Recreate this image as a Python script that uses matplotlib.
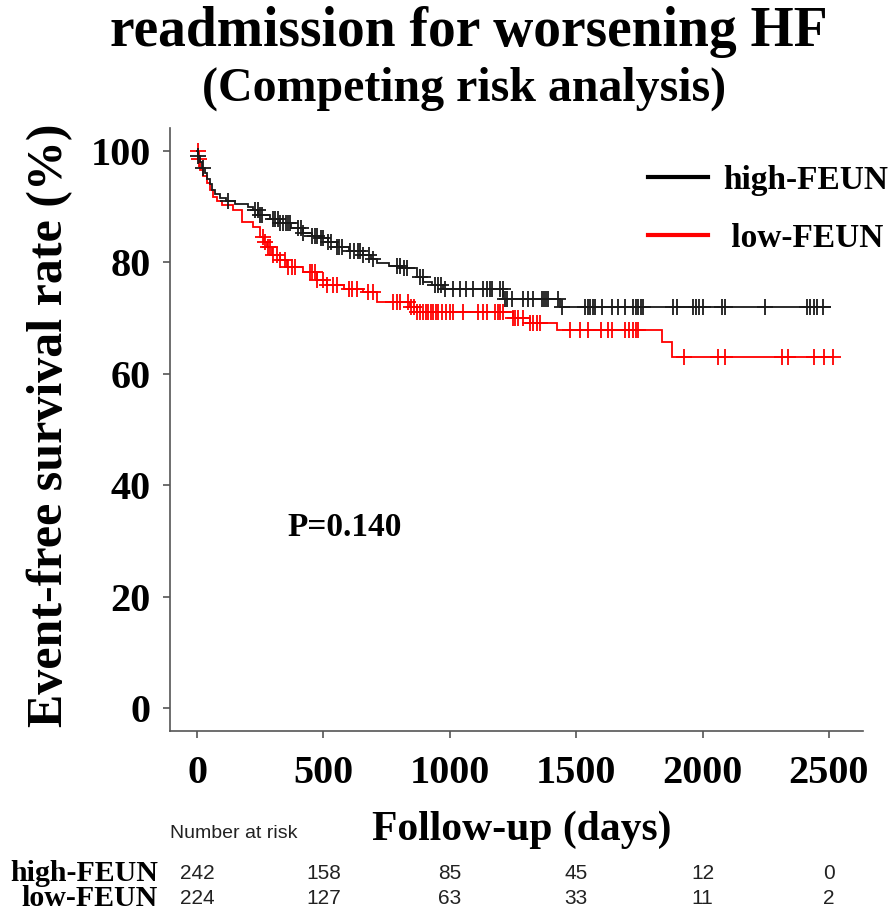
import numpy as np
import matplotlib
matplotlib.use('Agg')
import matplotlib.pyplot as plt
from matplotlib.lines import Line2D
from matplotlib.transforms import blended_transform_factory

# ---------------- data ----------------
high_times = [0, 5, 12, 20, 30, 40, 50, 60, 70, 90, 115, 150, 200, 222, 241, 290, 328, 370,
              420, 455, 487, 520, 554, 600, 657, 690, 712, 760, 815, 870, 895, 930, 974, 1211, 1437]
high_surv = [100, 99, 98, 97, 96, 95, 94, 93, 92.3, 91.6, 91.0, 90.4, 89.9, 89.4, 88.5, 87.8, 87.0, 86.2,
             85.3, 84.8, 84.3, 83.6, 82.8, 82.0, 81.3, 80.6, 79.9, 79.4, 79.0, 77.4, 76.5, 76.0, 75.2, 73.4, 72.0]
high_end = 2505
high_censor = [5, 24, 123, 230, 240, 250, 257, 300, 310, 320, 328, 340, 350, 360, 368, 400, 410, 420,
               455, 465, 475, 490, 499, 520, 530, 554, 562, 574, 605, 620, 635, 645, 657, 680, 695,
               791, 805, 820, 831, 882, 894, 942, 955, 965, 981, 1013, 1040, 1065, 1092, 1132, 1148,
               1160, 1167, 1200, 1210, 1219, 1227, 1247, 1290, 1310, 1330, 1365, 1372, 1380, 1390,
               1430, 1445, 1535, 1545, 1555, 1565, 1575, 1603, 1642, 1666, 1694, 1725, 1735, 1745,
               1755, 1765, 1884, 1900, 1963, 1975, 1988, 2002, 2078, 2089, 2248, 2414, 2427, 2440,
               2453, 2477]

low_times = [0, 5, 12, 25, 40, 50, 63, 80, 99, 142, 178, 222, 249, 265, 277, 297, 328, 356, 420,
             475, 514, 580, 657, 712, 843, 870, 1250, 1318, 1425, 1840, 1880]
low_surv = [100, 98.5, 96.6, 95.5, 94.3, 93.0, 91.7, 91.0, 90.3, 89.4, 87.3, 86.4, 84.6, 83.7, 82.8,
            81.3, 80.4, 79.2, 78.3, 76.8, 75.9, 75.3, 74.7, 72.9, 72.0, 71.1, 70.0, 69.1, 67.9, 65.7, 63.0]
low_end = 2517
low_censor = [3, 8, 261, 270, 280, 289, 300, 315, 328, 348, 360, 375, 388, 447, 455, 465, 475, 499,
              514, 538, 555, 600, 615, 633, 677, 697, 776, 790, 803, 835, 848, 860, 870, 882, 895,
              905, 915, 925, 935, 945, 955, 970, 985, 1000, 1013, 1053, 1112, 1132, 1148, 1179,
              1190, 1200, 1211, 1250, 1260, 1270, 1290, 1318, 1330, 1346, 1357, 1475, 1515, 1548,
              1600, 1625, 1640, 1695, 1710, 1725, 1735, 1745, 1925, 2060, 2090, 2315, 2340, 2440,
              2480, 2515]

group_labels = ['high-FEUN', ' low-FEUN']
risk_label_names = ['high-FEUN', 'low-FEUN']
risk_times = [0, 500, 1000, 1500, 2000, 2500]
risk_high = [242, 158, 85, 45, 12, 0]
risk_low = [224, 127, 63, 33, 11, 2]
x_ticks = [0, 500, 1000, 1500, 2000, 2500]
y_ticks = [0, 20, 40, 60, 80, 100]
p_text = 'P=0.140'

SERIF = 'Liberation Serif'
SANS = 'Liberation Sans'

W, H = 893, 913
fig = plt.figure(figsize=(W / 100, H / 100), dpi=100)
ax = fig.add_axes([170 / W, 1 - 731 / H, 693 / W, 603 / H])


def step_value(times, surv, t):
    i = np.searchsorted(times, t, side='right') - 1
    return surv[max(i, 0)]


def draw(times, surv, end, censor, color):
    xs = list(times) + [end]
    ys = list(surv) + [surv[-1]]
    ax.step(xs, ys, where='post', color=color, lw=1.3, solid_joinstyle='miter')
    cy = [step_value(times, surv, c) for c in censor]
    ax.plot(censor, cy, linestyle='none', marker='+', markersize=11, markeredgewidth=1.3, color=color)


draw(low_times, low_surv, low_end, low_censor, '#ff0000')
draw(high_times, high_surv, high_end, high_censor, '#1a1a1a')

ax.set_xlim(-107, 2635)
ax.set_ylim(-4.1, 104.1)
for s in ['top', 'right']:
    ax.spines[s].set_visible(False)
for s in ['left', 'bottom']:
    ax.spines[s].set_color('#555555')
    ax.spines[s].set_linewidth(1.2)

ax.set_xticks(x_ticks)
ax.set_yticks(y_ticks)
ax.set_xticklabels([str(v) for v in x_ticks], fontsize=29, fontweight='bold', family=SERIF)
ax.set_yticklabels([str(v) for v in y_ticks], fontsize=29, fontweight='bold', family=SERIF)
ax.tick_params(axis='both', length=5, width=1.2, color='#555555')
ax.tick_params(axis='y', pad=9)
ax.tick_params(axis='x', pad=12)

ax.text(356, 32.5, p_text, fontsize=24, fontweight='bold', family=SERIF, va='center', ha='left')

handles = [Line2D([], [], color='#000000', lw=3), Line2D([], [], color='#ff0000', lw=3)]
ax.legend(handles, group_labels, loc='upper right', bbox_to_anchor=(888 / W, 1 - 165 / H),
          bbox_transform=fig.transFigure, frameon=False,
          prop={'family': SERIF, 'weight': 'bold', 'size': 24},
          handlelength=1.8, handletextpad=0.45, labelspacing=0.8, borderpad=0, borderaxespad=0)

# titles
fig.text(469 / W, 1 - 46 / H, 'readmission for worsening HF', ha='center', va='baseline',
         fontsize=40, fontweight='bold', family=SERIF)
fig.text(464 / W, 1 - 101 / H, '(Competing risk analysis)', ha='center', va='baseline',
         fontsize=34.5, fontweight='bold', family=SERIF)

# axis labels
fig.text(50 / W, 1 - 425 / H, 'Event-free survival rate (%)', rotation=90, ha='center', va='center',
         fontsize=36, fontweight='bold', family=SERIF)
fig.text(522 / W, 1 - 830 / H, 'Follow-up (days)', ha='center', va='center',
         fontsize=30, fontweight='bold', family=SERIF)

# number at risk
fig.text(170 / W, 1 - 833 / H, 'Number at risk', ha='left', va='center', fontsize=14, family=SANS,
         color='#222222')
tr = blended_transform_factory(ax.transData, fig.transFigure)
for row_y, name, counts in [(873, risk_label_names[0], risk_high), (898, risk_label_names[1], risk_low)]:
    fig.text(158 / W, 1 - row_y / H, name, ha='right', va='center', fontsize=21.5, fontweight='bold',
             family=SERIF)
    for t, n in zip(risk_times, counts):
        ax.text(t, 1 - row_y / H, str(n), transform=tr, ha='center', va='center', fontsize=15,
                family=SANS, color='#222222', clip_on=False)

fig.savefig('out.png', dpi=100, facecolor='white')
